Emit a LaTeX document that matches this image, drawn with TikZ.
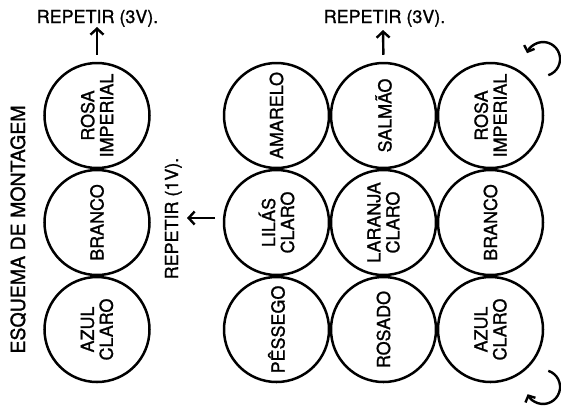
\documentclass[tikz,border=0pt]{standalone}
\usepackage{fontspec}
\setmainfont{TeX Gyre Heros}[FakeBold=1.2]
\usetikzlibrary{arrows.meta}
\begin{document}
\begin{tikzpicture}[x=1bp,y=-1bp,
  disc/.style={circle,draw,line width=2.5bp,minimum size=105bp,inner sep=0pt,align=center,rotate=90,font=\fontsize{18}{19}\selectfont},
  lbl/.style={font=\fontsize{18}{19}\selectfont,inner sep=0pt},
  arr/.style={line width=2.4bp,-{Straight Barb[length=6bp,width=13bp]}},
  carr/.style={line width=2.4bp,-{Straight Barb[length=5bp,width=11bp]}}]
\useasboundingbox (0,0) rectangle (561,405);
% left column
\node[disc] (L1) at (97,115.5) {ROSA\\IMPERIAL};
\node[disc] (L2) at (97,222.5) {BRANCO};
\node[disc] (L3) at (97,329.5) {AZUL\\CLARO};
% right block
\node[disc] (A1) at (276.5,115.5) {AMARELO};
\node[disc] (A2) at (276.5,222.5) {LILÁS\\CLARO};
\node[disc] (A3) at (276.5,329.5) {PÊSSEGO};
\node[disc] (B1) at (383.5,115.5) {SALMÃO};
\node[disc] (B2) at (383.5,222.5) {LARANJA\\CLARO};
\node[disc] (B3) at (383.5,329.5) {ROSADO};
\node[disc] (C1) at (490.5,115.5) {ROSA\\IMPERIAL};
\node[disc] (C2) at (490.5,222.5) {BRANCO};
\node[disc] (C3) at (490.5,329.5) {AZUL\\CLARO};
% texts
\node[lbl,anchor=base] (T1) at (97.5,23) {REPETIR (3V).};
\node[lbl,anchor=base] (T2) at (384.5,23) {REPETIR (3V).};
\node[lbl,anchor=base,rotate=90] (T3) at (178,218.5) {REPETIR (1V).};
\node[lbl,anchor=base,rotate=90,font=\fontsize{19.6}{20}\selectfont] (T4) at (25,229.5) {ESQUEMA DE MONTAGEM};
% straight arrows
\coordinate (e1) at (97,27);
\coordinate (e2) at (383,30);
\coordinate (s3) at (215,218);
\coordinate (e3) at (187,218);
\draw[arr,shorten <=7bp] (L1.east) -- (e1);
\draw[arr,shorten <=7bp] (B1.east) -- (e2);
\draw[arr] (s3) -- (e3);
% curved arrows
\coordinate (r1) at (548.3,75.2);
\coordinate (r2) at (548.3,370.8);
\draw[carr] (r1) arc[start angle=72,end angle=-160,radius=17];
\draw[carr] (r2) arc[start angle=-72,end angle=155,radius=17];
\end{tikzpicture}
\end{document}
